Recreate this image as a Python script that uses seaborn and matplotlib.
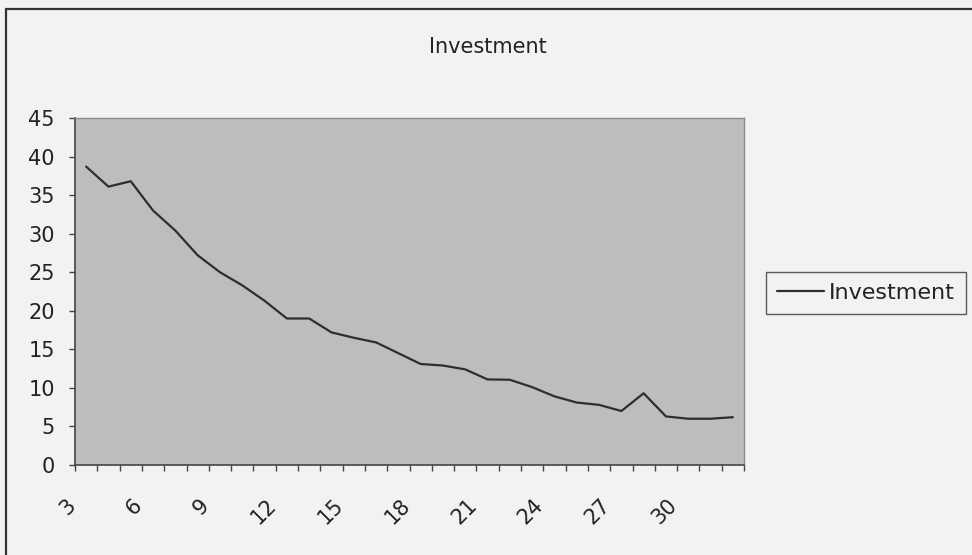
import matplotlib
matplotlib.use("Agg")
import matplotlib.pyplot as plt
import matplotlib.transforms as mtransforms
from matplotlib.lines import Line2D
import numpy as np
import pandas as pd
import seaborn as sns

# Data
periods = list(range(3, 33))
investment = [38.7, 36.1, 36.8, 33.0, 30.4, 27.2, 25.0, 23.3, 21.3, 19.0,
              19.0, 17.2, 16.5, 15.9, 14.5, 13.1, 12.9, 12.4, 11.1, 11.05,
              10.1, 8.9, 8.1, 7.8, 7.0, 9.3, 6.3, 6.0, 6.0, 6.2]
x_labels = list(range(3, 31, 3))
y_ticks = list(range(0, 50, 5))

df = pd.DataFrame({"period": periods, "Investment": investment})

sns.set_style("white")
plt.rcParams["font.family"] = ["DejaVu Sans"]

W, H = 972, 555
fig = plt.figure(figsize=(W / 100, H / 100), dpi=100, facecolor="#f2f2f2")
ax = fig.add_axes([75 / W, 1 - 465 / H, (744 - 75) / W, (465 - 118) / H])
ax.set_facecolor("#bdbdbd")

sns.lineplot(data=df, x="period", y="Investment", color="#2e2e2e",
             linewidth=1.6, label="Investment", ax=ax)

ax.set_xlim(periods[0] - 0.5, periods[-1] + 0.5)
ax.set_ylim(0, 45)
ax.set_xlabel("")
ax.set_ylabel("")

# y axis
ax.set_yticks(y_ticks)
ax.tick_params(axis="y", direction="out", length=4, width=1, color="#444444",
               labelsize=15, pad=10.5, left=True, labelcolor="#222222")

# x axis: tick marks between categories, labels every third category
ax.set_xticks(x_labels)
ax.set_xticks(np.arange(periods[0] - 0.5, periods[-1] + 1, 1), minor=True)
ax.tick_params(axis="x", which="major", length=0, labelsize=15, pad=27,
               labelcolor="#222222")
ax.tick_params(axis="x", which="minor", direction="out", length=4, width=1,
               color="#444444", bottom=True)
shift = mtransforms.ScaledTranslation(-0.14, 0, fig.dpi_scale_trans)
for lbl in ax.get_xticklabels():
    lbl.set_rotation(45)
    lbl.set_ha("right")
    lbl.set_va("center")
    lbl.set_rotation_mode("anchor")
    lbl.set_transform(lbl.get_transform() + shift)

for side in ["left", "bottom"]:
    ax.spines[side].set_color("#444444")
    ax.spines[side].set_linewidth(1.2)
for side in ["top", "right"]:
    ax.spines[side].set_color("#8a8a8a")
    ax.spines[side].set_linewidth(1.0)

ax.set_title("")
fig.text(488 / W, 1 - 47 / H, "Investment", ha="center", va="center",
         fontsize=15, color="#222222")

# legend outside on the right
handles, labels = ax.get_legend_handles_labels()
ax.get_legend().remove()
leg = fig.legend(handles, labels, loc="upper left",
                 bbox_to_anchor=(766 / W, 1 - 272 / H), fontsize=16,
                 frameon=True, fancybox=False, edgecolor="#333333",
                 handlelength=2.1, handletextpad=0.25, borderpad=0.5,
                 borderaxespad=0)
leg.get_frame().set_linewidth(1.0)
leg.get_frame().set_facecolor("#f2f2f2")
for t in leg.get_texts():
    t.set_color("#222222")

# chart area border (top and left edges)
fig.add_artist(Line2D([6 / W, 1], [1 - 9 / H, 1 - 9 / H],
                      transform=fig.transFigure, color="#333333", linewidth=1.6))
fig.add_artist(Line2D([6 / W, 6 / W], [0, 1 - 9 / H],
                      transform=fig.transFigure, color="#333333", linewidth=1.6))

fig.savefig("out.png", dpi=100, facecolor=fig.get_facecolor())
